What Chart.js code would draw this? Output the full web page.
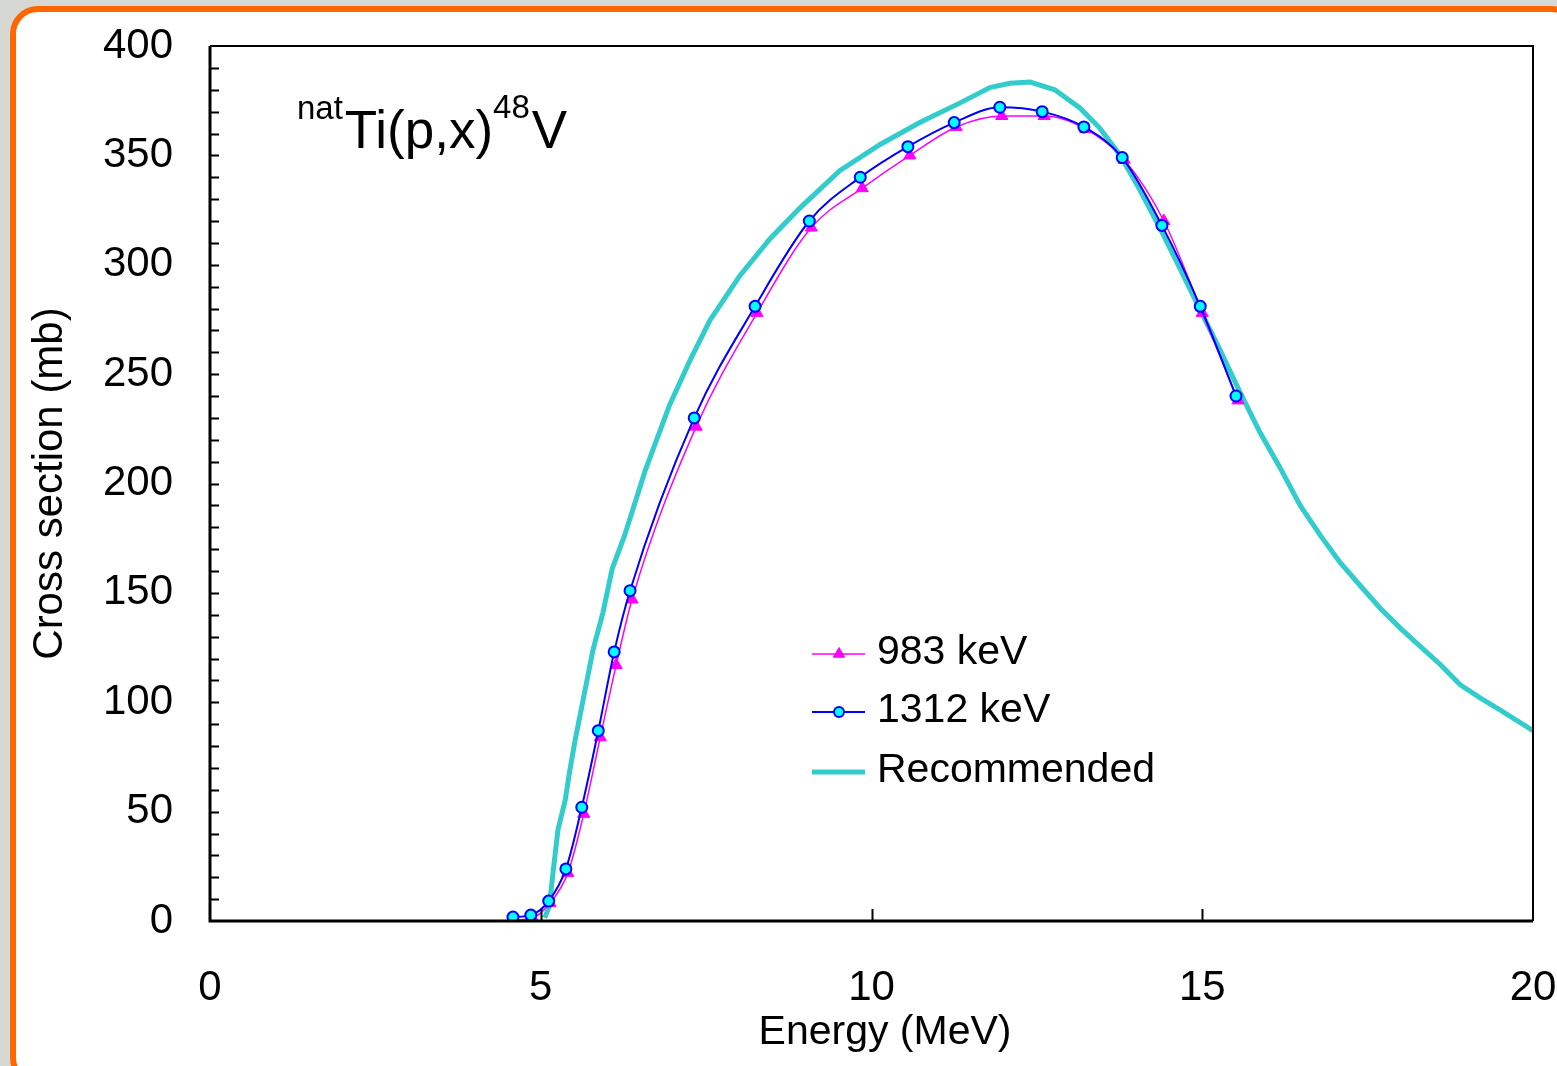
<!DOCTYPE html>
<html>
<head>
<meta charset="utf-8">
<title>natTi(p,x)48V</title>
<script src="https://cdn.jsdelivr.net/npm/chart.js@4"></script>
<style>
  html, body { margin: 0; padding: 0; background: #d6d8d3; overflow: hidden; }
  #frame {
    position: absolute; left: 10px; top: 6px; width: 1570px; height: 1080px;
    border: 6px solid #ff6600; border-radius: 28px; background: #fff; box-sizing: border-box;
  }
  #wrap { position: absolute; left: 0; top: 0; width: 1557px; height: 1066px; }
</style>
</head>
<body>
<div id="frame"></div>
<div id="wrap"><canvas id="chart" width="1557" height="1066"></canvas></div>
<script>
// energies in MeV, cross sections in mb
const energy983 = [4.61, 4.88, 5.14, 5.41, 5.65, 5.90, 6.14, 6.38, 7.35, 8.27, 9.09, 9.86, 10.58, 11.28, 11.97, 12.61, 13.24, 13.82, 14.42, 15.00, 15.54];
const sigma983 = [0.5, 1.4, 8.2, 22, 49, 84, 117, 147, 226, 278, 317, 335, 350, 363, 368, 368, 362, 348, 320, 278, 238];

const energy1312 = [4.58, 4.85, 5.12, 5.38, 5.62, 5.87, 6.11, 6.35, 7.32, 8.24, 9.06, 9.83, 10.55, 11.25, 11.94, 12.58, 13.21, 13.79, 14.39, 14.97, 15.51];
const sigma1312 = [1.8, 2.7, 9.1, 23.8, 52, 87, 123, 151, 230, 281, 320, 340, 354, 365, 372, 370, 363, 349, 318, 281, 240];

const energyRec = [5.06, 5.13, 5.19, 5.26, 5.37, 5.44, 5.52, 5.64, 5.79, 5.94, 6.08, 6.27, 6.58, 6.95, 7.26, 7.56, 8.01, 8.47, 8.92, 9.52,
  10.13, 10.73, 11.34, 11.79, 12.09, 12.40, 12.77, 13.15, 13.45, 13.76, 14.06, 14.36, 14.66, 14.97, 15.27, 15.57, 15.87, 16.18, 16.48, 16.78,
  17.08, 17.38, 17.69, 17.99, 18.29, 18.59, 18.90, 19.20, 19.50, 20.0];
const sigmaRec = [1.4, 6.9, 23.3, 41.6, 55.3, 69, 82.7, 101, 124, 141, 161, 176.5, 206, 236, 256.5, 274.7, 295, 312, 326, 343,
  355, 365, 374, 381, 383, 383.5, 380, 371.7, 362.5, 350, 334, 316.8, 298.5, 279.3, 261, 241.8, 223.5, 207, 190, 176.5,
  164, 153.6, 143, 134, 125.7, 117.5, 108, 102, 96.5, 87];

const xTicks = [0, 5, 10, 15, 20];
const yTicks = [0, 50, 100, 150, 200, 250, 300, 350, 400];

const FONT = "'Liberation Sans', Arial, sans-serif";

function toPoints(xs, ys) {
  return xs.map((x, i) => ({ x: x, y: ys[i] }));
}

function clearPadding(scale) {
  scale.paddingTop = 0;
  scale.paddingBottom = 0;
  scale.paddingLeft = 0;
  scale.paddingRight = 0;
}

const decorPlugin = {
  id: 'decor',
  afterDraw(chart) {
    const ctx = chart.ctx;
    const a = chart.chartArea;
    const xs = chart.scales.x;
    const ys = chart.scales.y;
    ctx.save();

    // frame of the plot
    ctx.strokeStyle = '#000';
    ctx.lineWidth = 2;
    ctx.beginPath();
    ctx.moveTo(a.left, a.top);
    ctx.lineTo(a.right, a.top);
    ctx.lineTo(a.right, a.bottom);
    ctx.stroke();
    ctx.lineWidth = 3;
    ctx.beginPath();
    ctx.moveTo(a.left, a.top);
    ctx.lineTo(a.left, a.bottom);
    ctx.lineTo(a.right, a.bottom);
    ctx.stroke();

    // inward ticks
    ctx.lineWidth = 2;
    ctx.beginPath();
    for (let v = 10; v < 400; v += 10) {
      const py = Math.round(ys.getPixelForValue(v)) + 0.5;
      ctx.moveTo(a.left, py);
      ctx.lineTo(a.left + 9, py);
    }
    xTicks.slice(1, -1).forEach(v => {
      const px = Math.round(xs.getPixelForValue(v)) + 0.5;
      ctx.moveTo(px, a.bottom);
      ctx.lineTo(px, a.bottom - 12);
    });
    ctx.stroke();

    // reaction label
    ctx.fillStyle = '#000';
    ctx.textBaseline = 'alphabetic';
    ctx.textAlign = 'left';
    let tx = 297;
    const parts = [
      ['nat', 33, 119], ['Ti(p,x)', 53, 148], ['48', 33, 118], ['V', 53, 148]
    ];
    parts.forEach(p => {
      ctx.font = p[1] + 'px ' + FONT;
      ctx.fillText(p[0], tx, p[2]);
      tx += ctx.measureText(p[0]).width + (p[1] === 33 ? 2 : 0);
    });

    // x title
    ctx.font = '41px ' + FONT;
    ctx.textAlign = 'center';
    ctx.textBaseline = 'middle';
    ctx.fillText('Energy (MeV)', 885, 1033);

    // legend
    const items = chart.data.datasets;
    const rows = [654, 712, 772];
    items.forEach((ds, i) => {
      const y = rows[i];
      ctx.strokeStyle = ds.borderColor;
      ctx.lineWidth = ds.borderWidth;
      ctx.beginPath();
      ctx.moveTo(812, y);
      ctx.lineTo(865, y);
      ctx.stroke();
      if (ds.pointRadius > 0) {
        ctx.fillStyle = ds.pointBackgroundColor;
        ctx.strokeStyle = ds.pointBorderColor;
        ctx.lineWidth = ds.pointBorderWidth;
        Chart.helpers.drawPoint(ctx, {
          pointStyle: ds.pointStyle,
          radius: ds.pointRadius - 0.5,
          borderWidth: ds.pointBorderWidth
        }, 839, y);
      }
      ctx.fillStyle = '#000';
      ctx.textAlign = 'left';
      ctx.font = '41px ' + FONT;
      ctx.fillText(ds.label, 877, y - 1);
    });
    ctx.restore();
  }
};

const ctx = document.getElementById('chart').getContext('2d');
const chart = new Chart(ctx, {
  type: 'line',
  data: {
    datasets: [
      {
        label: '983 keV',
        data: toPoints(energy983, sigma983),
        borderColor: '#ff00ff',
        borderWidth: 1.5,
        pointStyle: 'triangle',
        pointRadius: 7,
        pointBackgroundColor: '#ff00ff',
        pointBorderColor: '#ff00ff',
        pointBorderWidth: 1,
        cubicInterpolationMode: 'monotone',
        order: 1
      },
      {
        label: '1312 keV',
        data: toPoints(energy1312, sigma1312),
        borderColor: '#0000ff',
        borderWidth: 2,
        pointStyle: 'circle',
        pointRadius: 5.5,
        pointBackgroundColor: '#00ffff',
        pointBorderColor: '#0000ff',
        pointBorderWidth: 2,
        cubicInterpolationMode: 'monotone',
        order: 0
      },
      {
        label: 'Recommended',
        data: toPoints(energyRec, sigmaRec),
        borderColor: '#33cccc',
        borderWidth: 5,
        pointRadius: 0,
        tension: 0,
        order: 2
      }
    ]
  },
  options: {
    responsive: false,
    animation: false,
    devicePixelRatio: 1,
    layout: { padding: { left: 0, top: 46, right: 24, bottom: 0 } },
    plugins: {
      legend: { display: false },
      tooltip: { enabled: false }
    },
    scales: {
      x: {
        type: 'linear',
        min: 0,
        max: 20,
        grid: { display: false, drawTicks: false },
        border: { display: false },
        ticks: {
          stepSize: 5,
          padding: 42,
          color: '#000',
          font: { family: FONT, size: 42 }
        },
        afterFit(scale) { scale.height = 145; clearPadding(scale); }
      },
      y: {
        type: 'linear',
        min: 0,
        max: 400,
        grid: { display: false, drawTicks: false },
        border: { display: false },
        ticks: {
          stepSize: 50,
          padding: 37,
          color: '#000',
          font: { family: FONT, size: 42 }
        },
        title: {
          display: true,
          text: 'Cross section (mb)',
          color: '#000',
          font: { family: FONT, size: 42 },
          padding: { top: 25, bottom: 0 }
        },
        afterFit(scale) { scale.width = 210; clearPadding(scale); }
      }
    }
  },
  plugins: [decorPlugin]
});
</script>
</body>
</html>
